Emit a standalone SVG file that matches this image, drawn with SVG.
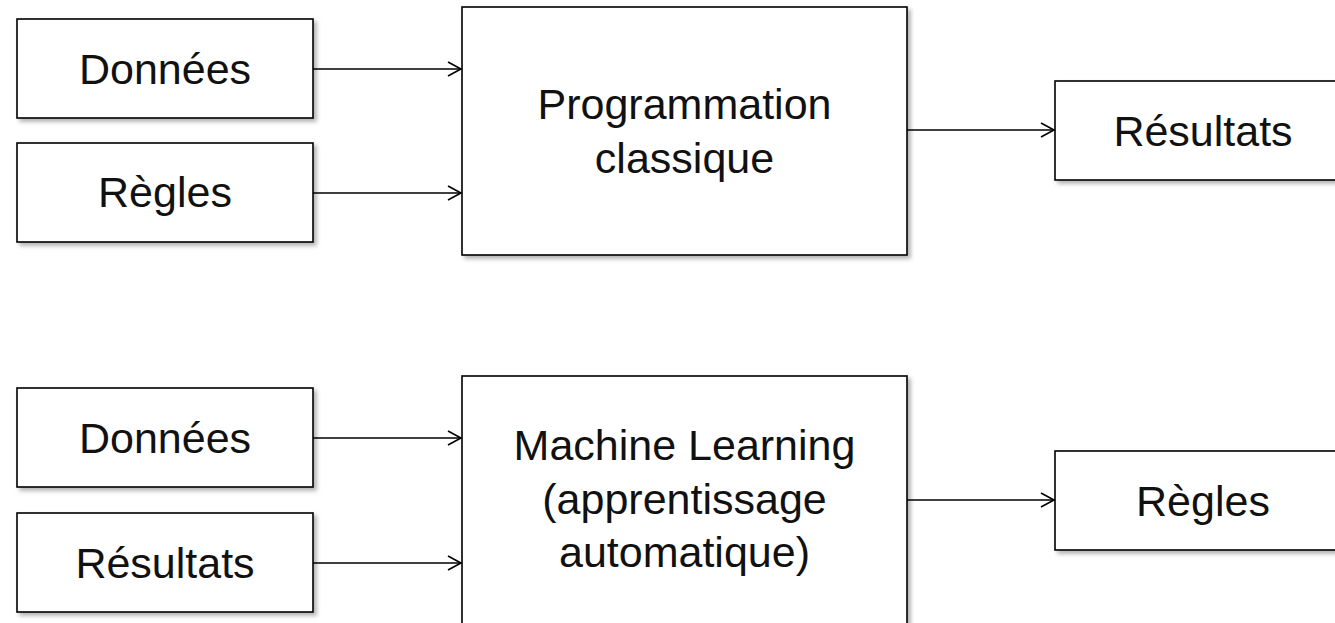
<svg xmlns="http://www.w3.org/2000/svg" width="1335" height="623" viewBox="0 0 1335 623">
<style>
.box{fill:#fff;stroke:#000;stroke-width:1.6;filter:url(#sh)}
.lbl{font-family:"Liberation Sans",Arial,Helvetica,sans-serif;font-size:43px;fill:#111;text-anchor:middle}
.edge{fill:none;stroke:#000;stroke-width:1.6;marker-end:url(#arr)}
</style>
<defs>
<filter id="sh" x="-10%" y="-10%" width="130%" height="130%">
<feDropShadow dx="3" dy="3" stdDeviation="2" flood-color="#000" flood-opacity="0.3"/>
</filter>
<marker id="arr" markerUnits="userSpaceOnUse" markerWidth="16" markerHeight="18" refX="14" refY="8" orient="auto">
<path d="M1,1 L14,8 L1,15" fill="none" stroke="#000" stroke-width="1.6"/>
</marker>
</defs>
<g id="n-donnees1"><rect class="box" x="17" y="19" width="296" height="99"/><text class="lbl" x="165" y="84">Données</text></g>
<g id="n-regles1"><rect class="box" x="17" y="143" width="296" height="99"/><text class="lbl" x="165" y="207">Règles</text></g>
<g id="n-prog"><rect class="box" x="462" y="7" width="445" height="248"/><text class="lbl" x="684.5" y="119">Programmation</text><text class="lbl" x="684.5" y="173">classique</text></g>
<g id="n-resultats1"><rect class="box" x="1055" y="81" width="296" height="99"/><text class="lbl" x="1203" y="146">Résultats</text></g>
<g id="n-donnees2"><rect class="box" x="17" y="388" width="296" height="99"/><text class="lbl" x="165" y="453">Données</text></g>
<g id="n-resultats2"><rect class="box" x="17" y="513" width="296" height="99"/><text class="lbl" x="165" y="578">Résultats</text></g>
<g id="n-ml"><rect class="box" x="462" y="376" width="445" height="260"/><text class="lbl" x="684.5" y="460">Machine Learning</text><text class="lbl" x="684.5" y="514">(apprentissage</text><text class="lbl" x="684.5" y="567">automatique)</text></g>
<g id="n-regles2"><rect class="box" x="1055" y="451" width="296" height="99"/><text class="lbl" x="1203" y="516">Règles</text></g>
<g id="connectors">
<line class="edge" x1="313" y1="69" x2="461" y2="69"/>
<line class="edge" x1="313" y1="193" x2="461" y2="193"/>
<line class="edge" x1="907" y1="130" x2="1054" y2="130"/>
<line class="edge" x1="313" y1="438" x2="461" y2="438"/>
<line class="edge" x1="313" y1="563" x2="461" y2="563"/>
<line class="edge" x1="907" y1="500" x2="1054" y2="500"/>
</g>
</svg>
